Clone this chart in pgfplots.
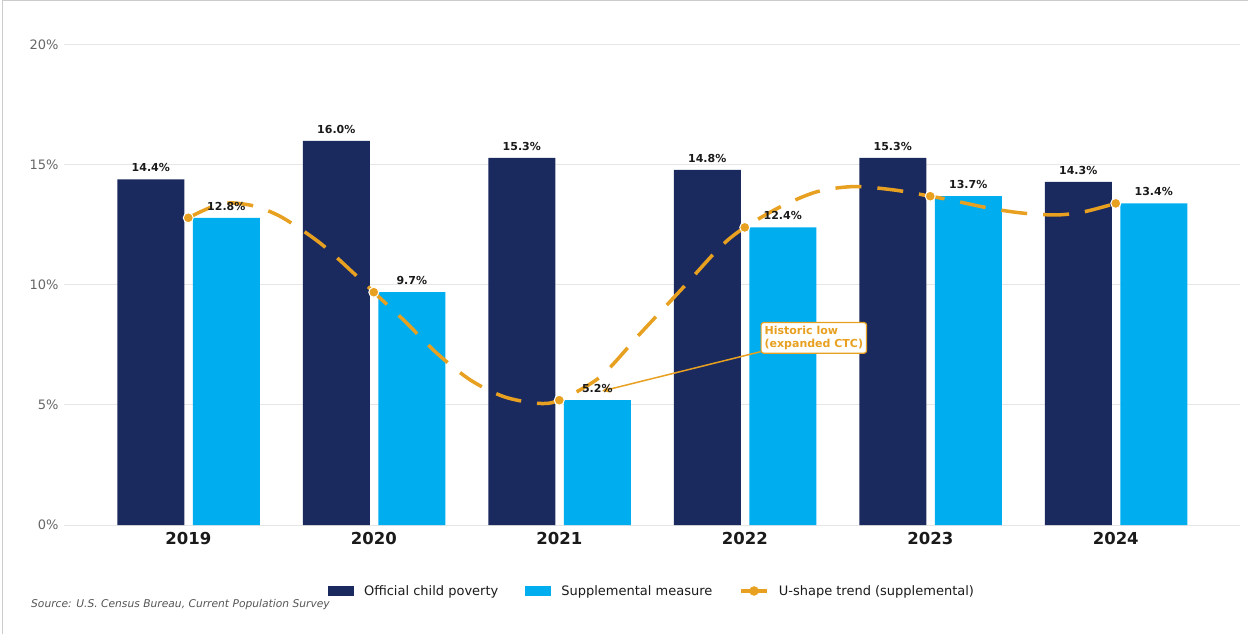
\documentclass[border=0pt]{standalone}
\usepackage{fontspec}
\setmainfont{DejaVu Sans}
\usepackage{pgfplots}
\pgfplotsset{compat=1.18}
\usetikzlibrary{arrows.meta}
\definecolor{navy}{HTML}{1B2A5E}
\definecolor{sky}{HTML}{00AEEF}
\definecolor{trend}{HTML}{E8A020}
\definecolor{gridc}{HTML}{E6E6E6}
\definecolor{tickc}{HTML}{666666}
\definecolor{txt}{HTML}{1A1A1A}
\definecolor{srcc}{HTML}{555555}

\begin{document}
\begin{tikzpicture}
\useasboundingbox (0,0) rectangle (1248bp,634bp);
\draw[black!20, line width=1bp] (2.5bp,0) -- (2.5bp,633.5bp) -- (1248bp,633.5bp);
\begin{axis}[
  at={(64bp,109bp)}, anchor=south west, scale only axis,
  width=1176bp, height=480bp,
  xmin=-0.67, xmax=5.67, ymin=0, ymax=20,
  axis line style={draw=none}, major tick length=0pt,
  ymajorgrids, grid style={gridc, line width=1bp},
  ytick={0,5,10,15,20},
  yticklabel={\pgfmathprintnumber{\tick}\%},
  yticklabel style={font=\fontsize{13bp}{15bp}\selectfont, text=tickc, xshift=-2bp},
  xtick={0,1,2,3,4,5},
  xticklabels={2019,2020,2021,2022,2023,2024},
  xticklabel style={font=\fontsize{16.5bp}{19bp}\selectfont\bfseries, text=txt, yshift=-4bp},
  /pgf/number format/assume math mode=true,
  clip=false,
  legend columns=3,
  legend style={at={(0.5,-0.1375)}, anchor=center, draw=none, fill=none,
    font=\fontsize{13bp}{15bp}\selectfont, text=txt,
    /tikz/every odd column/.append style={column sep=8bp},
    /tikz/every even column/.append style={column sep=25bp}},
  legend cell align=left,
  every node near coord/.append style={font=\fontsize{11bp}{13bp}\selectfont\bfseries, text=txt, yshift=4bp},
]
\addplot[ybar, bar width=67bp, bar shift=-37.5bp, fill=navy, draw=none,
  nodes near coords={\pgfmathprintnumber[fixed,fixed zerofill,precision=1]{\pgfplotspointmeta}\%},
  every node near coord/.append style={xshift=-37.5bp},
  legend image code/.code={\fill[navy] (0bp,-5bp) rectangle (26bp,5bp);}]
  coordinates {(0,14.4) (1,16.0) (2,15.3) (3,14.8) (4,15.3) (5,14.3)};
\addlegendentry{Official child poverty}
\addplot[ybar, bar width=67bp, bar shift=38bp, fill=sky, draw=none,
  nodes near coords={\pgfmathprintnumber[fixed,fixed zerofill,precision=1]{\pgfplotspointmeta}\%},
  every node near coord/.append style={xshift=38bp},
  legend image code/.code={\fill[sky] (0bp,-5bp) rectangle (26bp,5bp);}]
  coordinates {(0,12.8) (1,9.7) (2,5.2) (3,12.4) (4,13.7) (5,13.4)};
\addlegendentry{Supplemental measure}
% dashed trend curve
\addplot[forget plot, trend, line width=3.5bp, dash pattern=on 26bp off 16bp, smooth, tension=0.5, mark=none]
  coordinates {(0,12.8) (0.08,13.1) (0.155,13.33) (0.24,13.42) (0.37,13.26) (0.514,12.78)
  (0.712,11.74) (0.892,10.49) (1,9.7) (1.161,8.54) (1.341,7.15) (1.521,6.04) (1.70,5.35)
  (1.881,5.07) (2,5.2) (2.222,6.18) (2.438,7.99) (2.672,9.93) (2.87,11.6) (3,12.4)
  (3.193,13.26) (3.391,13.89) (3.589,14.10) (3.804,13.96) (4,13.7) (4.11,13.54)
  (4.326,13.19) (4.505,12.99) (4.685,12.92) (4.829,13.05) (5,13.4)};
\addplot[only marks, mark=*, mark size=5bp, mark options={fill=trend, draw=white, line width=1bp},
  legend image code/.code={\draw[trend, line width=3.5bp] (0bp,0bp) -- (26bp,0bp); \fill[trend] (13bp,0bp) circle (4.5bp);}]
  coordinates {(0,12.8) (1,9.7) (2,5.2) (3,12.4) (4,13.7) (5,13.4)};
\addlegendentry{U-shape trend (supplemental)}
\draw[trend, line width=1.5bp, -{Stealth[length=8bp,width=7bp]}] (axis cs:3.085,7.22) -- (axis cs:2.23,5.58);
\node[draw=trend, fill=white, rounded corners=2.5bp, text=trend, line width=1.2bp,
  font=\fontsize{11bp}{13bp}\selectfont\bfseries, align=left, anchor=north west, inner sep=3.5bp]
  at (axis cs:3.085,8.46) {Historic low\\(expanded CTC)};
\end{axis}
\node[anchor=west, inner sep=0pt, text=srcc, font=\fontsize{10.7bp}{13bp}\selectfont\itshape]
  at (31bp,29bp) {Source: U.S. Census Bureau, Current Population Survey};
\end{tikzpicture}
\end{document}
